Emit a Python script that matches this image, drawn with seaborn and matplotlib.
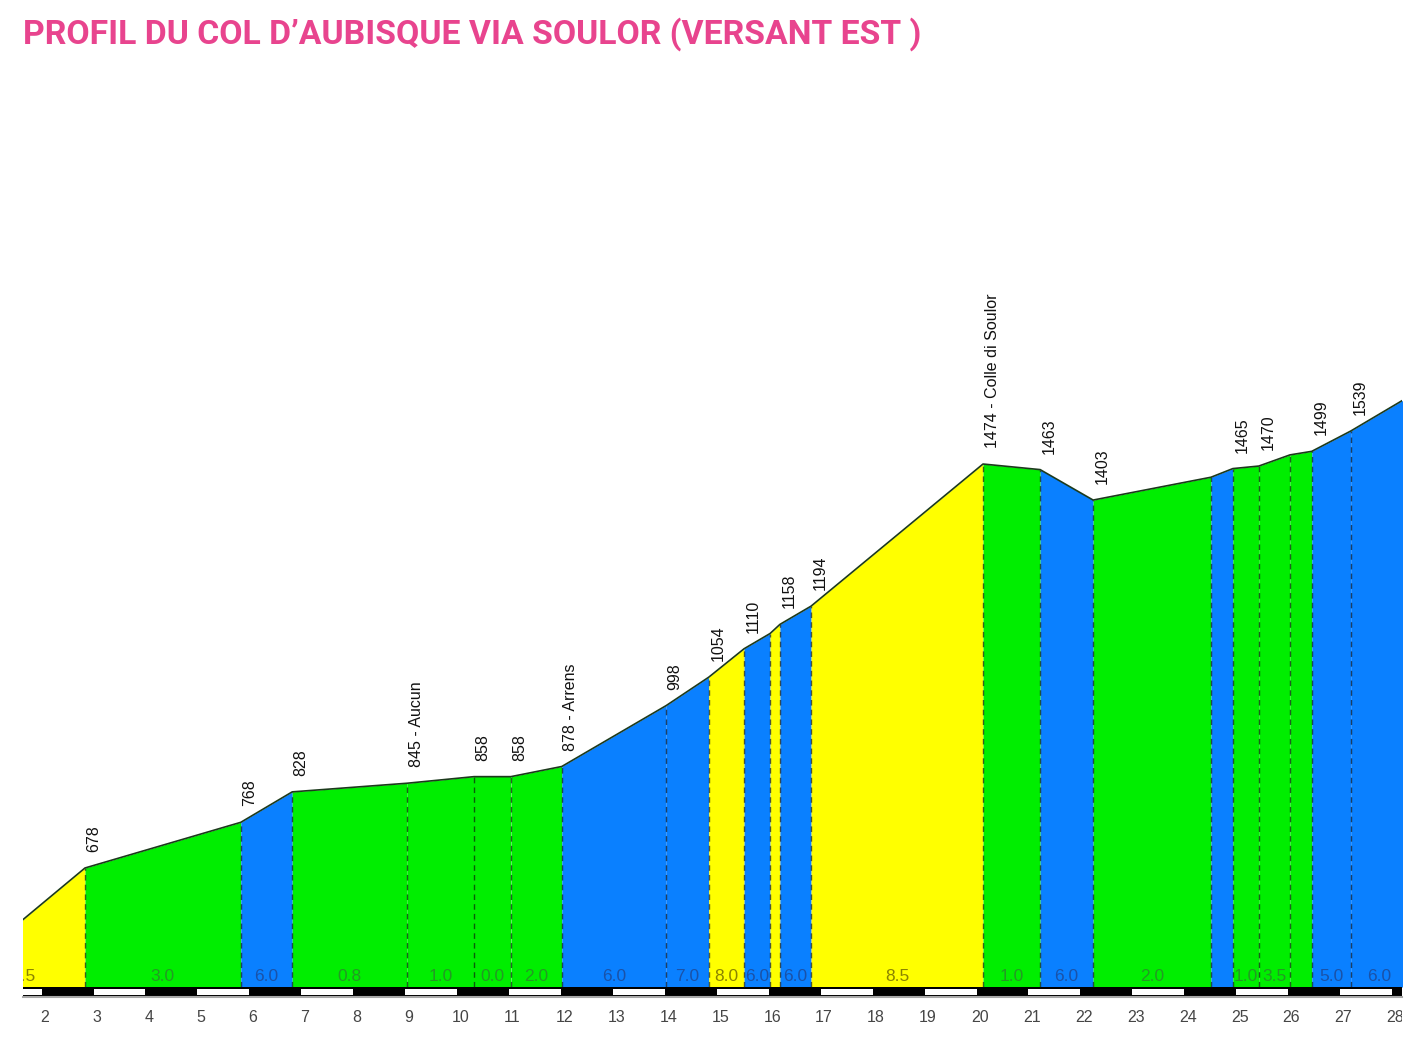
import matplotlib
matplotlib.use("Agg")
import matplotlib.pyplot as plt
from matplotlib.transforms import Bbox, TransformedBbox
import seaborn as sns
import pandas as pd

# ---------------- data ----------------
km = [0.40, 2.77, 5.77, 6.76, 8.97, 10.26, 10.97, 11.95, 13.96, 14.78, 15.46,
      15.96, 16.15, 16.75, 20.06, 21.16, 22.18, 24.45, 24.87, 25.37, 25.97,
      26.39, 27.14, 28.23]
elev = [476, 678, 768, 828, 845, 858, 858, 878, 998, 1054, 1110,
        1140, 1158, 1194, 1474, 1463, 1403, 1448, 1465, 1470, 1492,
        1499, 1539, 1605]
point_labels = ["", "678", "768", "828", "845 - Aucun", "858", "858",
                "878 - Arrens", "998", "1054", "1110", "", "1158", "1194",
                "1474 - Colle di Soulor", "1463", "1403", "", "1465", "1470",
                "", "1499", "1539", ""]
seg_grade = ["8.5", "3.0", "6.0", "0.8", "1.0", "0.0", "2.0", "6.0", "7.0",
             "8.0", "6.0", "", "6.0", "8.5", "1.0", "6.0", "2.0", "", "1.0",
             "3.5", "", "5.0", "6.0"]
seg_class = ["yellow", "green", "blue", "green", "green", "green", "green",
             "blue", "blue", "yellow", "blue", "yellow", "blue", "yellow",
             "green", "blue", "green", "blue", "green", "green", "green",
             "blue", "blue"]
km_ticks = list(range(2, 29))
title = "PROFIL DU COL D\u2019AUBISQUE VIA SOULOR (VERSANT EST )"

# ---------------- style ----------------
fill_colors = {"yellow": "#ffff00", "green": "#00ee00", "blue": "#0a80ff"}
text_colors = {"yellow": "#8a8400", "green": "#239a23", "blue": "#1a52a8"}

sns.set_theme(style="white")
plt.rcParams["font.family"] = ["Liberation Sans", "DejaVu Sans"]

W, H = 1426, 1039
fig = plt.figure(figsize=(W / 100, H / 100), dpi=100)
fig.patch.set_facecolor("white")
ax = fig.add_axes([23 / W, 42 / H, (1402 - 23) / W, (997 - 80) / H])

x_left, x_right = 1.5768, 28.127
y_bot, y_top = 423.8, 2230.7
base = 443.5
bar_top, bar_bot = 443.5, 425.2
bar_shift = -0.065
ax.set_xlim(x_left, x_right)
ax.set_ylim(y_bot, y_top)

# coloured segments
for i in range(len(km) - 1):
    ax.fill_between([km[i], km[i + 1]], [base, base], [elev[i], elev[i + 1]],
                    color=fill_colors[seg_class[i]], linewidth=0, zorder=1)
    if seg_grade[i]:
        ax.text((km[i] + km[i + 1]) / 2, 464, seg_grade[i], ha="center",
                va="center", fontsize=12.5, color=text_colors[seg_class[i]],
                zorder=5, clip_on=True)

# dashed vertical lines
ax.vlines(km[1:-1], base, elev[1:-1], colors="#101010", alpha=0.65,
          linestyles=(0, (4, 3)), linewidth=1.0, zorder=3)

# profile outline
df = pd.DataFrame({"km": km, "elev": elev})
sns.lineplot(data=df, x="km", y="elev", ax=ax, color="#1c3a1c", linewidth=1.2,
             sort=False, estimator=None, zorder=4)

# elevation labels
for x, y, lab in zip(km, elev, point_labels):
    if lab:
        ax.annotate(lab, (x, y), xytext=(6.5, 11.5), textcoords="offset points",
                    rotation=90, ha="center", va="bottom", fontsize=11.5,
                    color="#111111", zorder=6)

# black / white km bar
ax.fill_between([x_left - 1, x_right + 1], bar_bot, bar_top, color="black",
                linewidth=0, zorder=2)
for k in range(1, 29, 2):
    ax.fill_between([k + bar_shift, k + 1 + bar_shift], bar_bot + 3.0,
                    bar_top - 3.2, color="white", linewidth=0, zorder=2.5)

# axes cosmetics
ax.set_xlabel("")
ax.set_ylabel("")
ax.set_yticks([])
ax.set_xticks(km_ticks)
ax.set_xticklabels([str(t) for t in km_ticks])
ax.tick_params(axis="x", length=0, pad=9, labelsize=11.5, labelcolor="#454545")
for s in ["top", "left", "right"]:
    ax.spines[s].set_visible(False)
ax.spines["bottom"].set_color("#a8a8a8")
ax.spines["bottom"].set_linewidth(1.5)

clip = TransformedBbox(Bbox([[0, 0], [1402 / W, 1]]), fig.transFigure)
for lab in ax.get_xticklabels():
    lab.set_clip_box(clip)
    lab.set_clip_on(True)

fig.text(23 / W, 1 - 44 / H, title, fontsize=24.3, fontweight="bold",
         family=["Roboto", "DejaVu Sans"], color="#e8448e", ha="left",
         va="baseline")

fig.savefig("out.png", dpi=100, facecolor="white")
